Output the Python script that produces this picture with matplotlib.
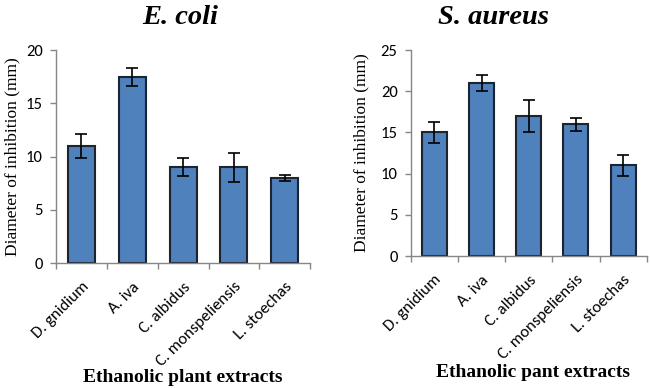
import matplotlib
matplotlib.use("Agg")
import matplotlib.pyplot as plt
import numpy as np

categories = ["D. gnidium", "A. iva", "C. albidus", "C. monspeliensis", "L. stoechas"]
ecoli_values = [11, 17.5, 9, 9, 8]
ecoli_errors = [1.1, 0.85, 0.87, 1.35, 0.3]
saureus_values = [15, 21, 17, 16, 11]
saureus_errors = [1.3, 1.0, 1.9, 0.8, 1.25]
ecoli_yticks = [0, 5, 10, 15, 20]
saureus_yticks = [0, 5, 10, 15, 20, 25]

fig = plt.figure(figsize=(6.5, 3.88), dpi=100)
ax1 = fig.add_axes([0.0862, 0.322, 0.391, 0.549])
ax2 = fig.add_axes([0.632, 0.340, 0.363, 0.531])

bar_color = "#4F81BD"
edge_color = "#1c2430"
spine_color = "#868686"
serif = ["Times New Roman", "Liberation Serif", "DejaVu Serif"]
sans = ["Carlito", "Open Sans", "DejaVu Sans"]

def draw(ax, values, errors, yticks, ylabpad):
    x = np.arange(len(categories))
    ax.bar(x, values, width=0.53, color=bar_color, edgecolor=edge_color, linewidth=1.5,
           yerr=errors, capsize=4, error_kw=dict(ecolor="black", elinewidth=1.2, capthick=1.2),
           zorder=2)
    ax.set_xlim(-0.5, len(categories) - 0.5)
    ax.set_ylim(yticks[0], yticks[-1])
    ax.set_yticks(yticks)
    ax.set_yticklabels([str(t) for t in yticks], fontsize=12, family=sans)
    ax.set_xticks(x)
    ax.set_xticklabels(categories, rotation=45, ha="right", rotation_mode="anchor",
                       fontsize=12, family=sans)
    ax.tick_params(axis="x", which="major", length=0, pad=12)
    ax.set_xticks(np.arange(-0.5, len(categories)), minor=True)
    ax.tick_params(axis="x", which="minor", length=4.5, color=spine_color, width=1)
    ax.tick_params(axis="y", length=4.5, color=spine_color, width=1, pad=5)
    for s in ["top", "right"]:
        ax.spines[s].set_visible(False)
    for s in ["left", "bottom"]:
        ax.spines[s].set_color(spine_color)
        ax.spines[s].set_linewidth(1)
    ax.set_ylabel("Diameter of inhibition (mm)", family=serif, fontsize=12.5, labelpad=ylabpad)

draw(ax1, ecoli_values, ecoli_errors, ecoli_yticks, 4)
draw(ax2, saureus_values, saureus_errors, saureus_yticks, 8)

fig.text(0.277, 0.938, "E. coli", family=serif, fontsize=20.5, fontweight="bold",
         style="italic", ha="center", va="baseline")
fig.text(0.760, 0.938, "S. aureus", family=serif, fontsize=20.5, fontweight="bold",
         style="italic", ha="center", va="baseline")
fig.text(0.2815, 0.016, "Ethanolic plant extracts", family=serif, fontsize=14,
         fontweight="bold", ha="center", va="baseline")
fig.text(0.82, 0.028, "Ethanolic pant extracts", family=serif, fontsize=14,
         fontweight="bold", ha="center", va="baseline")

fig.savefig("out.png", dpi=100)
